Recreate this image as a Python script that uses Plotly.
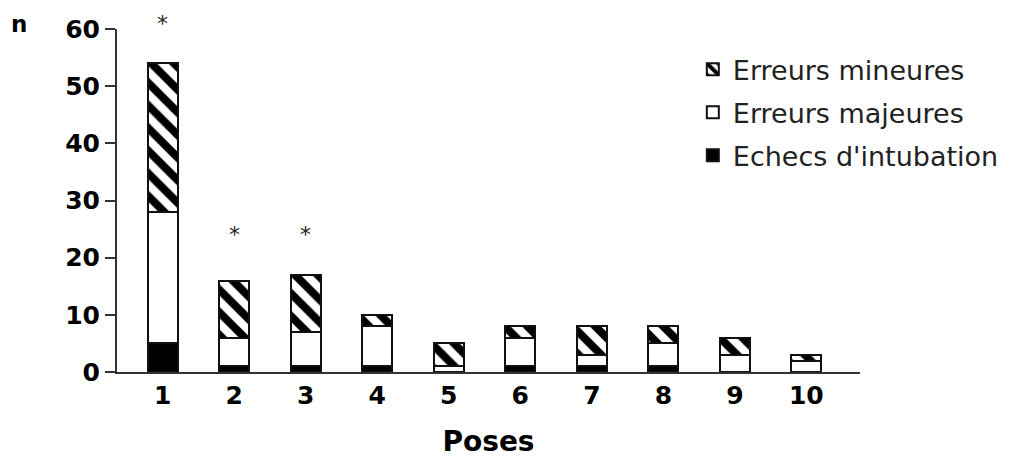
import plotly.graph_objects as go

poses = [1, 2, 3, 4, 5, 6, 7, 8, 9, 10]
echecs = [5, 1, 1, 1, 0, 1, 1, 1, 0, 0]
majeures = [23, 5, 6, 7, 1, 5, 2, 4, 3, 2]
mineures = [26, 10, 10, 2, 4, 2, 5, 3, 3, 1]
star_poses = [1, 2, 3]
star_y = [61, 24, 24]
y_max = 60

font_family = "DejaVu Sans, Liberation Sans, Arial, sans-serif"
line = dict(color="#111", width=2)

fig = go.Figure()
fig.add_trace(go.Bar(x=poses, y=echecs, name="Echecs d'intubation", legendrank=3,
                     legendgroup="c",
                     marker=dict(color="black", line=line), width=0.42))
fig.add_trace(go.Bar(x=poses, y=majeures, name="Erreurs majeures", legendrank=2,
                     legendgroup="b",
                     marker=dict(color="white", line=line), width=0.42))
fig.add_trace(go.Bar(x=poses, y=mineures, name="Erreurs mineures", legendrank=1,
                     legendgroup="a",
                     marker=dict(color="white", line=line,
                                 pattern=dict(shape="\\", fgcolor="black", bgcolor="white",
                                              size=16, solidity=0.5, fgopacity=1)),
                     width=0.42))

for xp, yp in zip(star_poses, star_y):
    fig.add_annotation(x=xp, xref="x", y=yp / y_max, yref="y domain", yanchor="middle",
                       text="*", showarrow=False,
                       font=dict(size=22, color="#222", family=font_family))

fig.add_annotation(xref="x domain", yref="y domain", x=-0.146, y=1.058, text="<b>n</b>",
                   showarrow=False, font=dict(size=23, color="black", family=font_family))

fig.update_layout(
    barmode="stack",
    width=1023, height=459,
    margin=dict(l=109, r=171, t=21, b=95, autoexpand=False),
    plot_bgcolor="white", paper_bgcolor="white",
    font=dict(family=font_family, color="black"),
    showlegend=True,
    legend=dict(x=0.775, y=0.953, xanchor="left", yanchor="top", traceorder="grouped",
                font=dict(size=27, color="#222"), tracegroupgap=5,
                bgcolor="rgba(0,0,0,0)"),
    xaxis=dict(range=[0.36, 10.75], tickvals=poses, ticktext=[str(p) for p in poses],
               showline=True, linecolor="#333", linewidth=2, ticks="",
               tickfont=dict(size=25, family=font_family, weight="bold"),
               showgrid=False, zeroline=False,
               title=dict(text="Poses", font=dict(size=28, family=font_family, weight="bold"),
                          standoff=22)),
    yaxis=dict(range=[0, y_max], tickvals=[0, 10, 20, 30, 40, 50, 60],
               showline=True, linecolor="#333", linewidth=2, ticks="outside", ticklen=10,
               tickwidth=1.5, tickcolor="#333",
               tickfont=dict(size=25, family=font_family, weight="bold"),
               showgrid=False, zeroline=False),
)

fig.update_traces(cliponaxis=False)
fig.write_html("out.html")
